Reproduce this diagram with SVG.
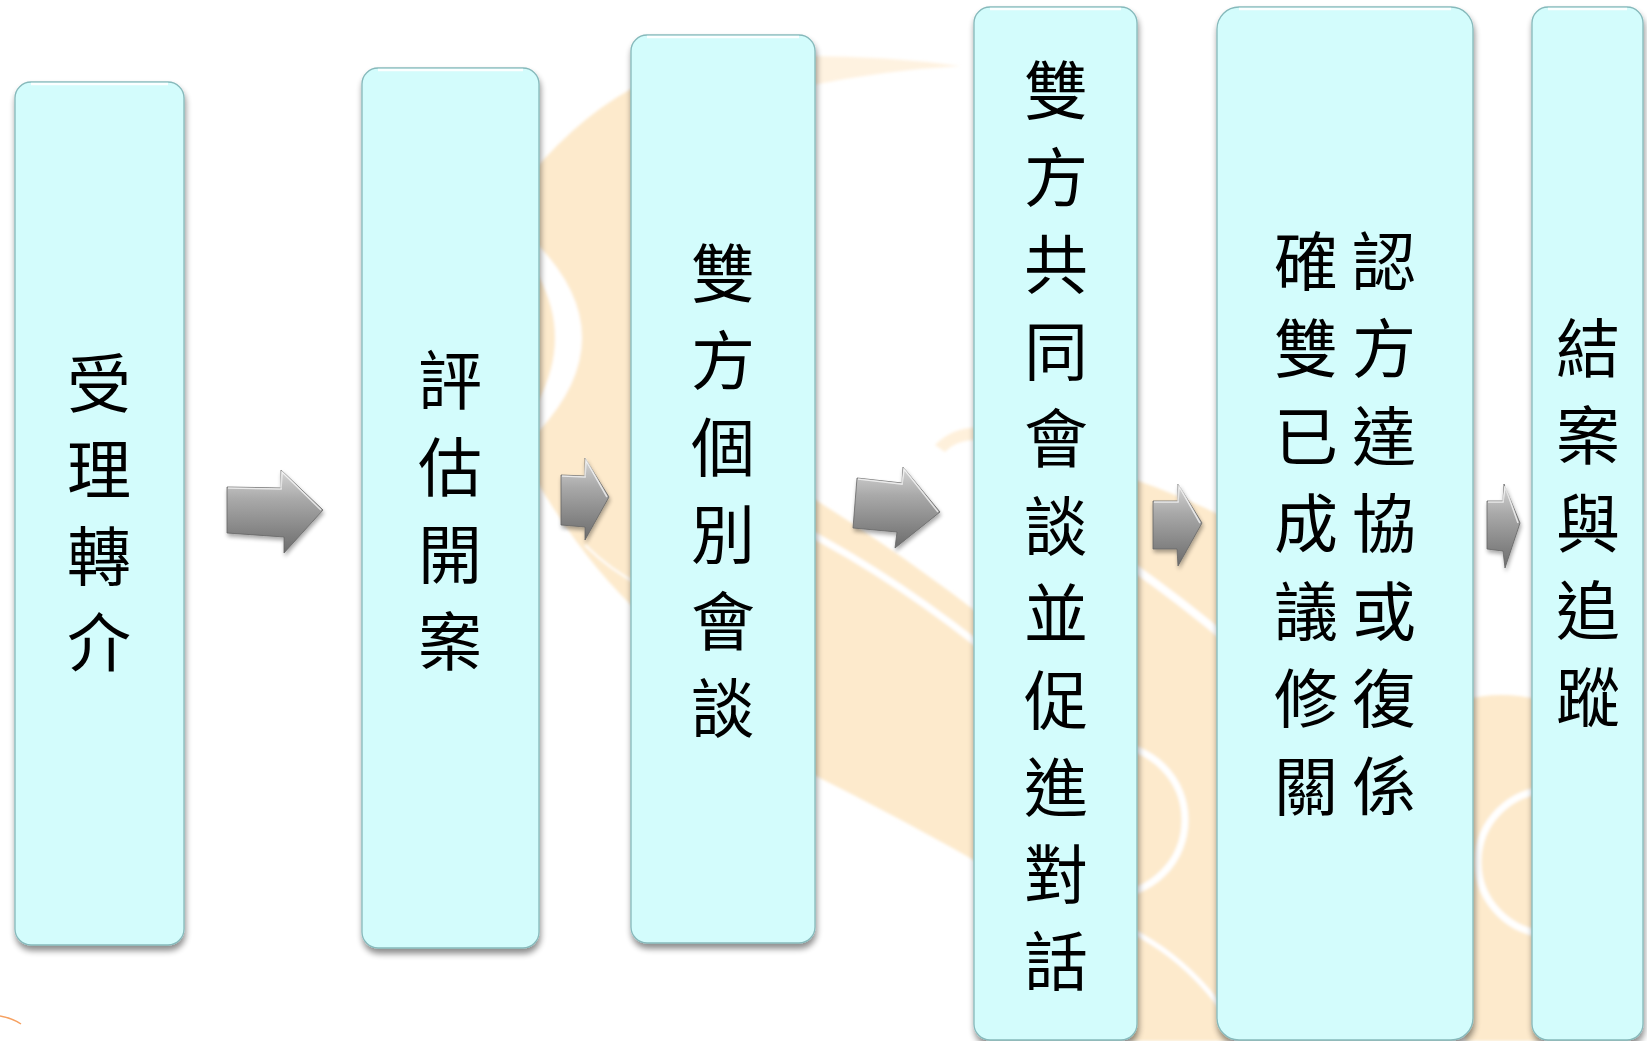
<svg xmlns="http://www.w3.org/2000/svg" width="1647" height="1041" viewBox="0 0 1647 1041">
<defs>
<style>
.box{fill:#d3fcfc;stroke:#86b9bb;stroke-width:1.3;filter:url(#sh)}
.hl{fill:none;stroke:#ffffff;stroke-width:2.5;stroke-opacity:0.9}
.lbl{font-family:"Noto Sans CJK TC","Noto Sans CJK SC",sans-serif;font-size:64px;fill:#000;text-anchor:middle}
.arr{fill:url(#ag);stroke:#666;stroke-width:0.8;filter:url(#ash)}
.arrhl{fill:none;stroke:#ffffff;stroke-opacity:0.7;stroke-width:1.6}
.pe{fill:#fdeacc}
.wl{fill:none;stroke:#ffffff}
</style>
<filter id="sh" x="-10%" y="-5%" width="120%" height="110%">
<feGaussianBlur in="SourceAlpha" stdDeviation="3"/>
<feOffset dx="1" dy="5" result="b"/>
<feComponentTransfer><feFuncA type="linear" slope="0.45"/></feComponentTransfer>
<feMerge><feMergeNode/><feMergeNode in="SourceGraphic"/></feMerge>
</filter>
<filter id="ash" x="-20%" y="-20%" width="140%" height="140%">
<feGaussianBlur in="SourceAlpha" stdDeviation="2"/>
<feOffset dx="1" dy="3"/>
<feComponentTransfer><feFuncA type="linear" slope="0.35"/></feComponentTransfer>
<feMerge><feMergeNode/><feMergeNode in="SourceGraphic"/></feMerge>
</filter>
<filter id="soft" x="-5%" y="-5%" width="110%" height="110%">
<feGaussianBlur stdDeviation="1.5"/>
</filter>
<linearGradient id="ag" x1="0" y1="0" x2="0" y2="1">
<stop offset="0" stop-color="#d6d6d6"/>
<stop offset="0.35" stop-color="#a9a9a9"/>
<stop offset="1" stop-color="#6c6c6c"/>
</linearGradient>
</defs>
<rect width="1647" height="1041" fill="#ffffff"/>
<g id="background" filter="url(#soft)">
<path class="pe" d="M530,175 Q585,110 645,82 L645,618 Q585,565 530,470 Z"/>
<path fill="#ffffff" d="M538,245 Q626,337 538,432 L538,402 Q572,337 538,275 Z"/>
<path class="wl" stroke-width="2" d="M585,545 Q610,570 640,585"/>
<path class="pe" opacity="0.6" d="M808,56 Q885,56 960,66 Q885,70 808,86 Z"/>
<path class="pe" opacity="0.7" d="M935,445 Q955,425 985,428 L985,440 Q958,438 945,452 Z"/>
<path class="pe" d="M800,490 Q905,555 1000,630 L1000,875 Q905,820 800,768 Z"/>
<path class="wl" stroke-width="7" d="M800,528 Q900,580 1000,662"/>
<path class="pe" d="M1130,478 Q1180,495 1230,520 L1230,1041 L1130,1041 Z"/>
<path class="wl" stroke-width="8" d="M1130,565 Q1180,600 1230,642"/>
<circle class="wl" stroke-width="7" cx="1110" cy="820" r="75"/>
<path class="wl" stroke-width="5" d="M1130,930 Q1190,960 1230,1020"/>
<path class="pe" d="M1465,700 Q1500,690 1540,700 L1540,1041 L1465,1041 Z"/>
<circle class="wl" stroke-width="7" cx="1550" cy="862" r="72"/>
</g>
<path fill="none" stroke="#f6a060" stroke-width="1.5" d="M0,1016 Q12,1018 21,1024"/>
<g id="connectors">
<polygon class="arr" points="227,487 281,488 281,470 323,510 284,553 284,537 227,533"/>
<polyline class="arrhl" points="228,488 281,489 282,472 321,510"/>
<polygon class="arr" points="561,475 585,476 585,458 609,497 585,540 585,527 561,525"/>
<polyline class="arrhl" points="562,476 585,477 586,460 607,497"/>
<polygon class="arr" points="857,478 902,483 903,467 940,512 895,548 897,532 853,528"/>
<polyline class="arrhl" points="858,479 902,484 904,469 938,512"/>
<polygon class="arr" points="1153,501 1178,501 1178,484 1202,523 1178,566 1177,549 1153,549"/>
<polyline class="arrhl" points="1154,502 1178,502 1179,486 1200,523"/>
<polygon class="arr" points="1487,501 1503,501 1504,484 1520,523 1505,568 1503,551 1487,549"/>
<polyline class="arrhl" points="1488,502 1503,502 1505,486 1518,523"/>
</g>
<g id="node1">
<rect class="box" x="15" y="82" width="169" height="863" rx="16"/>
<path class="hl" d="M31,84 H168"/>
<text class="lbl"><tspan x="99" y="407">受</tspan><tspan x="99" y="493">理</tspan><tspan x="99" y="580">轉</tspan><tspan x="99" y="666">介</tspan></text>
</g>
<g id="node2">
<rect class="box" x="362" y="68" width="177" height="880" rx="16"/>
<path class="hl" d="M378,70 H523"/>
<text class="lbl"><tspan x="450" y="404">評</tspan><tspan x="450" y="491">估</tspan><tspan x="450" y="578">開</tspan><tspan x="450" y="665">案</tspan></text>
</g>
<g id="node3">
<rect class="box" x="631" y="35" width="184" height="908" rx="16"/>
<path class="hl" d="M647,37 H799"/>
<text class="lbl"><tspan x="723" y="297">雙</tspan><tspan x="723" y="384">方</tspan><tspan x="723" y="471">個</tspan><tspan x="723" y="558">別</tspan><tspan x="723" y="645">會</tspan><tspan x="723" y="732">談</tspan></text>
</g>
<g id="node4">
<rect class="box" x="974" y="7" width="163" height="1033" rx="16"/>
<path class="hl" d="M990,9 H1121"/>
<text class="lbl"><tspan x="1056" y="114">雙</tspan><tspan x="1056" y="201">方</tspan><tspan x="1056" y="288">共</tspan><tspan x="1056" y="375">同</tspan><tspan x="1056" y="462">會</tspan><tspan x="1056" y="550">談</tspan><tspan x="1056" y="637">並</tspan><tspan x="1056" y="724">促</tspan><tspan x="1056" y="811">進</tspan><tspan x="1056" y="898">對</tspan><tspan x="1056" y="985">話</tspan></text>
</g>
<g id="node5">
<rect class="box" x="1217" y="7" width="256" height="1033" rx="22"/>
<path class="hl" d="M1239,9 H1451"/>
<text class="lbl"><tspan x="1306" y="285">確</tspan><tspan x="1384" y="285">認</tspan><tspan x="1306" y="372">雙</tspan><tspan x="1384" y="372">方</tspan><tspan x="1306" y="460">已</tspan><tspan x="1384" y="460">達</tspan><tspan x="1306" y="547">成</tspan><tspan x="1384" y="547">協</tspan><tspan x="1306" y="635">議</tspan><tspan x="1384" y="635">或</tspan><tspan x="1306" y="722">修</tspan><tspan x="1384" y="722">復</tspan><tspan x="1306" y="810">關</tspan><tspan x="1384" y="810">係</tspan></text>
</g>
<g id="node6">
<rect class="box" x="1532" y="7" width="111" height="1033" rx="16"/>
<path class="hl" d="M1548,9 H1627"/>
<text class="lbl"><tspan x="1588" y="372">結</tspan><tspan x="1588" y="459">案</tspan><tspan x="1588" y="547">與</tspan><tspan x="1588" y="634">追</tspan><tspan x="1588" y="721">蹤</tspan></text>
</g>
</svg>
